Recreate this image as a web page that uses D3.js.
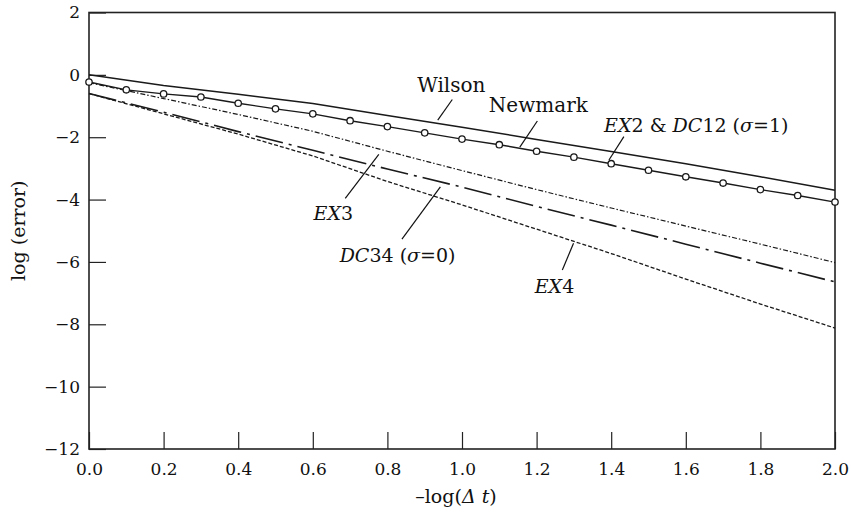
<!DOCTYPE html>
<html>
<head>
<meta charset="utf-8">
<script src="https://cdn.jsdelivr.net/npm/d3@7"></script>
<style>
  body { margin: 0; background: #fff; }
  svg { display: block; font-family: "DejaVu Serif", serif; }
</style>
</head>
<body>
<svg id="chart" width="851" height="523"></svg>
<script>
// -log(dt) sample points (0.2 steps) for the broken/solid lines
const xSteps = [0.0, 0.2, 0.4, 0.6, 0.8, 1.0, 1.2, 1.4, 1.6, 1.8, 2.0];
const wilson = [0.0, -0.34, -0.62, -0.92, -1.30, -1.68, -2.07, -2.46, -2.85, -3.27, -3.70];
const ex3    = [-0.25, -0.76, -1.27, -1.81, -2.45, -3.07, -3.68, -4.27, -4.85, -5.43, -6.02];
const dc34   = [-0.6, -1.20, -1.82, -2.42, -3.02, -3.60, -4.22, -4.82, -5.43, -6.04, -6.64];
const ex4    = [-0.6, -1.25, -1.90, -2.60, -3.42, -4.17, -4.95, -5.73, -6.55, -7.35, -8.12];

// Newmark / EX2 & DC12 (sigma=1), marked every 0.1
const xMarks = [0.0, 0.1, 0.2, 0.3, 0.4, 0.5, 0.6, 0.7, 0.8, 0.9, 1.0,
                1.1, 1.2, 1.3, 1.4, 1.5, 1.6, 1.7, 1.8, 1.9, 2.0];
const newmark = [-0.23, -0.48, -0.61, -0.71, -0.91, -1.09, -1.25, -1.47, -1.66, -1.86, -2.06,
                 -2.24, -2.45, -2.64, -2.85, -3.06, -3.27, -3.47, -3.68, -3.87, -4.08];

const xTicks = [0.0, 0.2, 0.4, 0.6, 0.8, 1.0, 1.2, 1.4, 1.6, 1.8, 2.0];
const yTicks = [2, 0, -2, -4, -6, -8, -10, -12];

const svg = d3.select("#chart");
const margin = { top: 12.5, right: 16, bottom: 74, left: 89 };
const width = 851 - margin.left - margin.right;
const height = 523 - margin.top - margin.bottom;

const g = svg.append("g")
    .attr("transform", `translate(${margin.left},${margin.top})`);

const x = d3.scaleLinear().domain([0, 2]).range([0, width]);
const y = d3.scaleLinear().domain([-12, 2]).range([height, 0]);

// axes with inward ticks
const yAxis = g.append("g")
    .call(d3.axisLeft(y).tickValues(yTicks).tickSizeInner(-17).tickSizeOuter(0).tickPadding(9));
yAxis.selectAll("text").attr("font-size", "17px").attr("font-family", "DejaVu Serif").attr("fill", "#111");

const xAxis = g.append("g")
    .attr("transform", `translate(0,${height})`)
    .call(d3.axisBottom(x).tickValues(xTicks).tickFormat(d3.format(".1f"))
        .tickSizeInner(-17).tickSizeOuter(0).tickPadding(14));
xAxis.selectAll("text").attr("font-size", "17px").attr("font-family", "DejaVu Serif").attr("fill", "#111");

g.selectAll(".domain").remove();
g.selectAll(".tick line").attr("stroke", "#222").attr("stroke-width", 1.2);

// frame
g.append("rect")
    .attr("x", 0).attr("y", 0)
    .attr("width", width).attr("height", height)
    .attr("fill", "none")
    .attr("stroke", "#222")
    .attr("stroke-width", 1.6);

const line = d3.line().x(d => x(d[0])).y(d => y(d[1]));

const series = [
    { vals: wilson, dash: null, w: 1.5 },
    { vals: ex3, dash: "5,2,1.5,2", w: 1.2 },
    { vals: dc34, dash: "28,6,3,6", w: 1.6 },
    { vals: ex4, dash: "4,2", w: 1.3 }
];

series.forEach(s => {
    g.append("path")
        .datum(xSteps.map((v, i) => [v, s.vals[i]]))
        .attr("fill", "none")
        .attr("stroke", "#1a1a1a")
        .attr("stroke-width", s.w)
        .attr("stroke-dasharray", s.dash)
        .attr("d", line);
});

const nmData = xMarks.map((v, i) => [v, newmark[i]]);
g.append("path")
    .datum(nmData)
    .attr("fill", "none")
    .attr("stroke", "#1a1a1a")
    .attr("stroke-width", 1.4)
    .attr("d", line);

g.selectAll(".mark")
    .data(nmData)
    .enter().append("circle")
    .attr("class", "mark")
    .attr("cx", d => x(d[0]))
    .attr("cy", d => y(d[1]))
    .attr("r", 3.2)
    .attr("fill", "#fff")
    .attr("stroke", "#1a1a1a")
    .attr("stroke-width", 1.3);

// annotations: text start, leader line from -> to (data units)
const notes = [
    { parts: [["Wilson", false]], tx: 0.880, ty: -0.54, size: 20, from: [0.974, -0.79], to: [0.935, -1.45] },
    { parts: [["Newmark", false]], tx: 1.072, ty: -1.18, size: 20, from: [1.202, -1.48], to: [1.155, -2.32] },
    { parts: [["EX", true], ["2 & ", false], ["DC", true], ["12 (", false], ["σ", true], ["=1)", false]],
      tx: 1.381, ty: -1.82, size: 19, from: [1.434, -1.98], to: [1.394, -2.73] },
    { parts: [["EX", true], ["3", false]], tx: 0.602, ty: -4.66, size: 19, from: [0.687, -3.96], to: [0.777, -2.55] },
    { parts: [["DC", true], ["34 (", false], ["σ", true], ["=0)", false]],
      tx: 0.672, ty: -5.99, size: 19, from: [0.839, -5.27], to: [0.942, -3.59] },
    { parts: [["EX", true], ["4", false]], tx: 1.195, ty: -6.99, size: 19, from: [1.269, -6.26], to: [1.299, -5.40] }
];

notes.forEach(n => {
    const t = g.append("text")
        .attr("x", x(n.tx))
        .attr("y", y(n.ty))
        .attr("font-size", n.size + "px")
        .attr("fill", "#111");
    n.parts.forEach(p => {
        t.append("tspan")
            .attr("font-style", p[1] ? "italic" : "normal")
            .text(p[0]);
    });
    g.append("line")
        .attr("x1", x(n.from[0])).attr("y1", y(n.from[1]))
        .attr("x2", x(n.to[0])).attr("y2", y(n.to[1]))
        .attr("stroke", "#111")
        .attr("stroke-width", 1.2);
});

// axis titles
svg.append("text")
    .attr("transform", `translate(25,${margin.top + height / 2}) rotate(-90)`)
    .attr("text-anchor", "middle")
    .attr("font-size", "19px")
    .attr("fill", "#111")
    .text("log (error)");

const xt = svg.append("text")
    .attr("x", margin.left + width / 2 - 6)
    .attr("y", 503)
    .attr("text-anchor", "middle")
    .attr("font-size", "19px")
    .attr("fill", "#111");
xt.append("tspan").text("–log(");
xt.append("tspan").attr("font-style", "italic").text("Δ t");
xt.append("tspan").text(")");
</script>
</body>
</html>
